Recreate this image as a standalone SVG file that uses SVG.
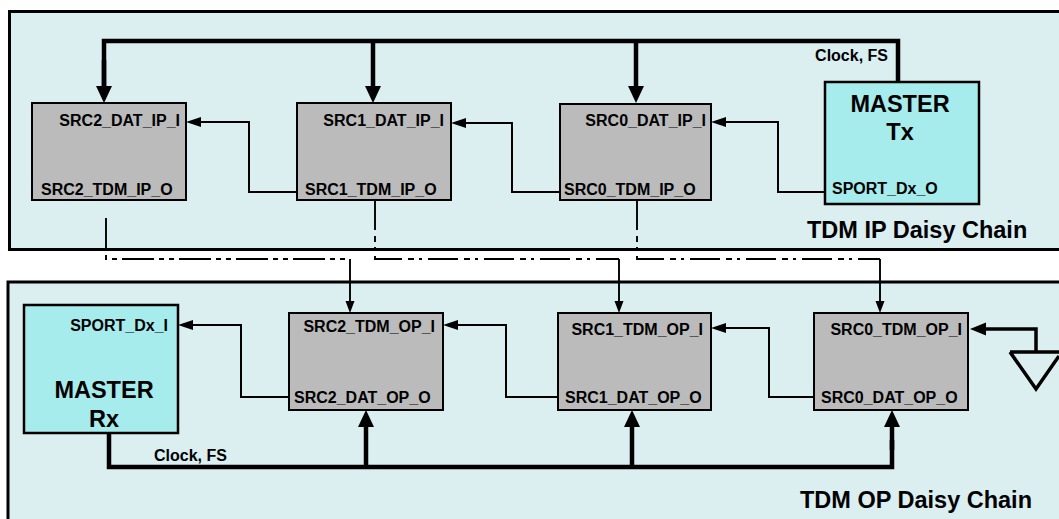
<svg xmlns="http://www.w3.org/2000/svg" width="1059" height="519" viewBox="0 0 1059 519">
<style>
.panel{fill:#dbeef0;stroke:#000;stroke-width:3}
.src{fill:#bbbbbb;stroke:#000;stroke-width:2}
.master{fill:#a6ecec;stroke:#000;stroke-width:2.5}
text{font-family:"Liberation Sans",Arial,Helvetica,sans-serif;font-weight:bold;fill:#000}
.lbl{font-size:16px}
.big{font-size:23.5px}
.end{text-anchor:end}
.mid{text-anchor:middle}
.thin{fill:none;stroke:#000;stroke-width:2;marker-end:url(#aThin)}
.clk{fill:none;stroke:#000;stroke-width:4.5;stroke-linejoin:miter}
.clkA{fill:none;stroke:#000;stroke-width:4.5;marker-end:url(#aThick)}
.dash2{fill:none;stroke:#000;stroke-width:1.9;stroke-dasharray:32 5 5 5 5 5}
.dash1{fill:none;stroke:#000;stroke-width:1.9;stroke-dasharray:30 6 6 5 3 6}
.dashA{fill:none;stroke:#000;stroke-width:1.9;marker-end:url(#aDash)}
.gnd{fill:none;stroke:#000;stroke-width:3.5}
</style>
<defs>
<marker id="aThin" markerUnits="userSpaceOnUse" markerWidth="16" markerHeight="12" refX="0" refY="5" orient="auto" overflow="visible"><path d="M0,0 L15,5 L0,10 Z" fill="#000"/></marker>
<marker id="aThick" markerUnits="userSpaceOnUse" markerWidth="18" markerHeight="17" refX="0" refY="8" orient="auto" overflow="visible"><path d="M0,0 L17,8 L0,16 Z" fill="#000"/></marker>
<marker id="aDash" markerUnits="userSpaceOnUse" markerWidth="13" markerHeight="10" refX="0" refY="4.5" orient="auto" overflow="visible"><path d="M0,0 L12,4.5 L0,9 Z" fill="#000"/></marker>
<marker id="aGnd" markerUnits="userSpaceOnUse" markerWidth="17" markerHeight="14" refX="0" refY="6.5" orient="auto" overflow="visible"><path d="M0,0 L16,6.5 L0,13 Z" fill="#000"/></marker>
</defs>

<g id="panel-ip">
<rect class="panel" x="9.5" y="11.5" width="1060" height="238"/>
<text class="big" x="807" y="238">TDM IP Daisy Chain</text>
</g>
<g id="panel-op">
<rect class="panel" x="8" y="282" width="1060" height="250"/>
<text class="big" x="800" y="508">TDM OP Daisy Chain</text>
</g>

<g id="connectors">
<path class="clk" d="M898,82 V41 H104 V88"/>
<path class="clkA" d="M104,60 V86"/>
<path class="clkA" d="M373,41 V86"/>
<path class="clkA" d="M636,41 V86"/>
<text class="lbl end" x="888" y="61">Clock, FS</text>
<path class="thin" d="M297,192 H249 V122 H201"/>
<path class="thin" d="M560,192 H512 V123 H466"/>
<path class="thin" d="M825,192 H778 V122 H726"/>
<path class="dash2" d="M106,218 V259 H350"/>
<path class="dashA" d="M350,259 V301"/>
<path class="dash1" d="M375,200 V259 H619"/>
<path class="dashA" d="M619,259 V301"/>
<path class="dash1" d="M637,200 V259 H880"/>
<path class="dashA" d="M880,259 V301"/>
<path class="thin" d="M289,397 H241 V325 H193"/>
<path class="thin" d="M558,397 H506 V325 H458"/>
<path class="thin" d="M814,397 H769 V328 H726"/>
<path class="gnd" d="M1036,352 V329 H986" marker-end="url(#aGnd)"/>
<path class="gnd" d="M1010,352 H1059 M1010,352 L1036,389 L1059,356"/>
<path class="clk" d="M109,433 V467 H892 V440"/>
<path class="clkA" d="M892,450 V427"/>
<path class="clkA" d="M366,467 V427"/>
<path class="clkA" d="M632,467 V427"/>
<text class="lbl" x="154" y="461">Clock, FS</text>
</g>

<g id="src2-ip">
<rect class="src" x="32" y="103" width="154" height="97"/>
<text class="lbl end" x="180" y="126">SRC2_DAT_IP_I</text>
<text class="lbl" x="41" y="195">SRC2_TDM_IP_O</text>
</g>
<g id="src1-ip">
<rect class="src" x="297" y="103" width="154" height="97"/>
<text class="lbl end" x="444" y="126">SRC1_DAT_IP_I</text>
<text class="lbl" x="305" y="195">SRC1_TDM_IP_O</text>
</g>
<g id="src0-ip">
<rect class="src" x="560" y="104" width="151" height="96"/>
<text class="lbl end" x="706" y="126">SRC0_DAT_IP_I</text>
<text class="lbl" x="564" y="195">SRC0_TDM_IP_O</text>
</g>
<g id="master-tx">
<rect class="master" x="825" y="82" width="154" height="122"/>
<text class="big mid" x="900" y="112">MASTER</text>
<text class="big mid" x="900" y="140">Tx</text>
<text class="lbl" x="832" y="194">SPORT_Dx_O</text>
</g>

<g id="master-rx">
<rect class="master" x="24" y="305" width="154" height="128"/>
<text class="lbl end" x="168" y="331">SPORT_Dx_I</text>
<text class="big mid" x="104" y="398">MASTER</text>
<text class="big mid" x="104" y="427">Rx</text>
</g>
<g id="src2-op">
<rect class="src" x="289" y="313" width="154" height="97"/>
<text class="lbl end" x="435" y="332">SRC2_TDM_OP_I</text>
<text class="lbl" x="294" y="403">SRC2_DAT_OP_O</text>
</g>
<g id="src1-op">
<rect class="src" x="558" y="313" width="153" height="97"/>
<text class="lbl end" x="703" y="335">SRC1_TDM_OP_I</text>
<text class="lbl" x="565" y="403">SRC1_DAT_OP_O</text>
</g>
<g id="src0-op">
<rect class="src" x="814" y="313" width="154" height="97"/>
<text class="lbl end" x="962" y="335">SRC0_TDM_OP_I</text>
<text class="lbl" x="821" y="403">SRC0_DAT_OP_O</text>
</g>
</svg>
